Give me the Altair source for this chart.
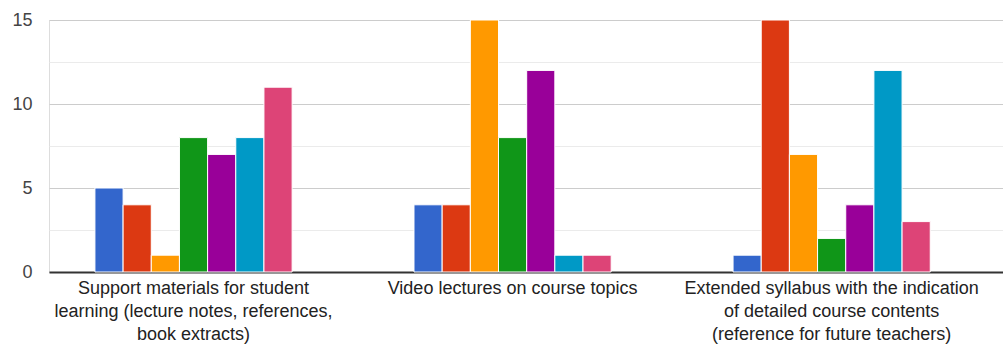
import altair as alt
import pandas as pd

categories = [
    "Support materials for student|learning (lecture notes, references,|book extracts)",
    "Video lectures on course topics",
    "Extended syllabus with the indication|of detailed course contents|(reference for future teachers)",
]
series = ["Series 1", "Series 2", "Series 3", "Series 4", "Series 5", "Series 6", "Series 7"]
colors = ["#3366cc", "#dc3912", "#ff9900", "#109618", "#990099", "#0099c6", "#dd4477"]
values = [
    [5, 4, 1, 8, 7, 8, 11],
    [4, 4, 15, 8, 12, 1, 1],
    [1, 15, 7, 2, 4, 12, 3],
]
y_ticks = [0, 2.5, 5, 7.5, 10, 12.5, 15]

rows = []
for c, vals in zip(categories, values):
    for s, v in zip(series, vals):
        rows.append({"category": c, "series": s, "value": v})
df = pd.DataFrame(rows)

FONT = "Liberation Sans"

chart = alt.Chart(df).mark_bar(stroke="white", strokeWidth=1).encode(
    x=alt.X(
        "category:N",
        sort=categories,
        title=None,
        scale=alt.Scale(paddingInner=0.382, paddingOuter=0.186, align=0.387),
        axis=alt.Axis(
            labelAngle=0,
            labelExpr="split(datum.label, '|')",
            labelLineHeight=23,
            labelFontSize=18,
            labelColor="#222222",
            labelFont=FONT,
            labelLimit=500,
            labelPadding=7,
            ticks=False,
            domainColor="#333333",
            domainWidth=2,
            grid=False,
            labelBaseline="top",
        ),
    ),
    xOffset=alt.XOffset("series:N", sort=series, scale=alt.Scale(paddingInner=0, paddingOuter=0)),
    y=alt.Y(
        "value:Q",
        title=None,
        scale=alt.Scale(domain=[0, 15], nice=False),
        axis=alt.Axis(
            values=y_ticks,
            labelExpr="datum.value % 5 === 0 ? datum.label : ''",
            labelFontSize=18,
            labelColor="#444444",
            labelFont=FONT,
            labelPadding=17,
            ticks=False,
            domain=False,
            gridColor=alt.condition("datum.value % 5 === 0", alt.value("#cccccc"), alt.value("#ebebeb")),
            gridWidth=1,
        ),
    ),
    color=alt.Color("series:N", sort=series, scale=alt.Scale(domain=series, range=colors), legend=None),
).properties(
    width=954,
    height=252,
    autosize=alt.AutoSizeParams(type="none"),
    padding={"left": 49, "top": 20, "right": 0, "bottom": 77},
).configure_view(stroke=None).configure(background="white")

chart.save("out.html", embed_options={"renderer": "svg", "actions": False})
